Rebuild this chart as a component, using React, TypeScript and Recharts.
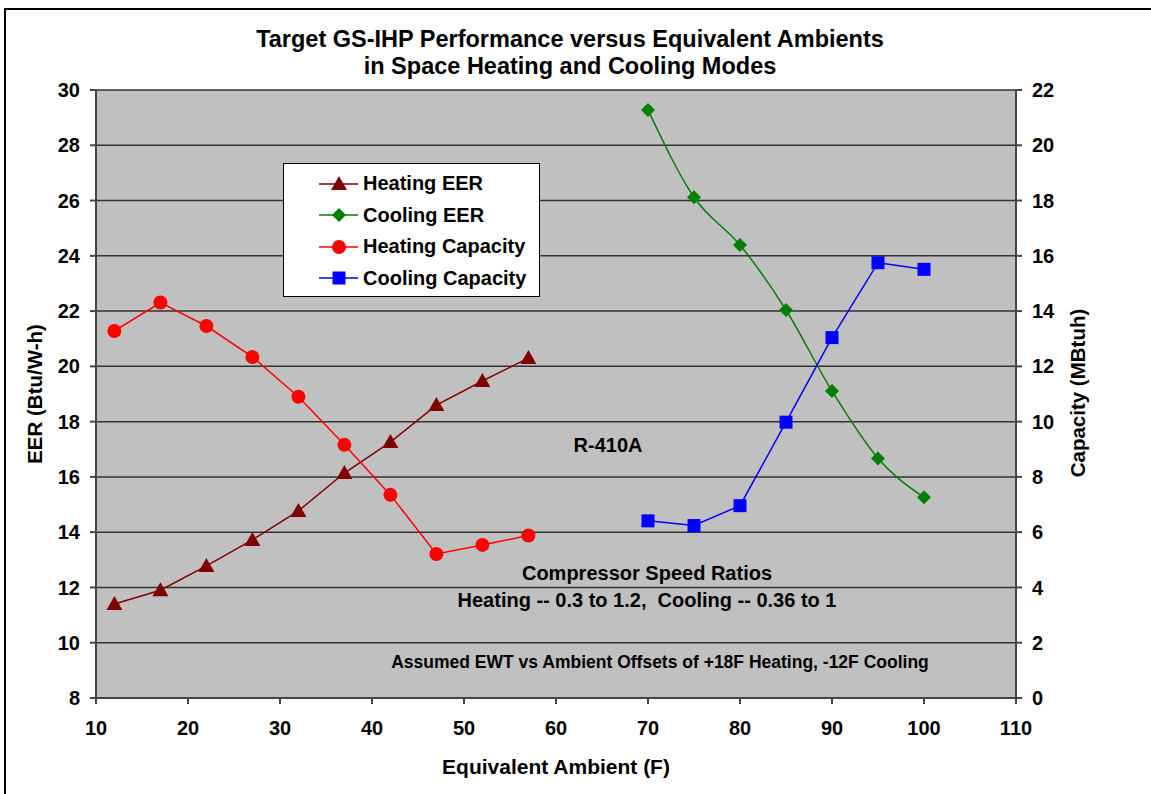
import { LineChart, Line, XAxis, YAxis, CartesianGrid } from 'recharts';

// Heating mode: equivalent ambient (F), EER (Btu/W-h), capacity (MBtuh)
const heatingTemps = [12, 17, 22, 27, 32, 37, 42, 47, 52, 57];
const heatingEer = [11.4, 11.9, 12.78, 13.72, 14.77, 16.14, 17.26, 18.6, 19.47, 20.3];
const heatingCapacity = [13.28, 14.31, 13.46, 12.34, 10.9, 9.16, 7.35, 5.21, 5.54, 5.88];

// Cooling mode
const coolingTemps = [70, 75, 80, 85, 90, 95, 100];
const coolingEer = [29.28, 26.12, 24.39, 22.04, 19.11, 16.67, 15.26];
const coolingCapacity = [6.41, 6.24, 6.96, 9.98, 13.04, 15.75, 15.51];

const xTicks = [10, 20, 30, 40, 50, 60, 70, 80, 90, 100, 110];
const eerTicks = [8, 10, 12, 14, 16, 18, 20, 22, 24, 26, 28, 30];
const capTicks = [0, 2, 4, 6, 8, 10, 12, 14, 16, 18, 20, 22];

const FONT = '"Liberation Sans", Arial, sans-serif';

const heatingRows = heatingTemps.map((t, i) => ({ temp: t, eer: heatingEer[i], cap: heatingCapacity[i] }));
const coolingRows = coolingTemps.map((t, i) => ({ temp: t, eer: coolingEer[i], cap: coolingCapacity[i] }));

const series = [
  { name: 'Heating EER', color: '#800000', shape: 'triangle' },
  { name: 'Cooling EER', color: '#008000', shape: 'diamond' },
  { name: 'Heating Capacity', color: '#FF0000', shape: 'circle' },
  { name: 'Cooling Capacity', color: '#0000FF', shape: 'square' },
];

function Marker({ shape, cx, cy, color }: { shape: string; cx: number; cy: number; color: string }) {
  if (shape === 'triangle') {
    return <polygon points={`${cx},${cy - 8} ${cx - 8},${cy + 6} ${cx + 8},${cy + 6}`} fill={color} />;
  }
  if (shape === 'diamond') {
    return <polygon points={`${cx},${cy - 7} ${cx + 7},${cy} ${cx},${cy + 7} ${cx - 7},${cy}`} fill={color} />;
  }
  if (shape === 'circle') {
    return <circle cx={cx} cy={cy} r={7} fill={color} />;
  }
  return <rect x={cx - 6.5} y={cy - 6.5} width={13} height={13} fill={color} />;
}

const makeDot = (shape: string, color: string) => (props: any) => {
  const { cx, cy, index } = props;
  if (cx == null || cy == null) return <g key={index} />;
  return (
    <g key={index}>
      <Marker shape={shape} cx={cx} cy={cy} color={color} />
    </g>
  );
};

function LegendBox() {
  return (
    <div
      style={{
        position: 'absolute',
        left: 283,
        top: 163,
        width: 257,
        height: 134,
        background: '#fff',
        border: '1px solid #000',
        boxSizing: 'border-box',
        paddingTop: 4,
        fontFamily: FONT,
      }}
    >
      {series.map((s) => (
        <div key={s.name} style={{ display: 'flex', alignItems: 'center', height: 31.5 }}>
          <svg width={79} height={20}>
            <line x1={35} y1={10} x2={74} y2={10} stroke={s.color} strokeWidth={1.5} />
            <Marker shape={s.shape} cx={55} cy={10} color={s.color} />
          </svg>
          <span style={{ fontSize: 20, fontWeight: 'bold', color: '#000' }}>{s.name}</span>
        </div>
      ))}
    </div>
  );
}

const tickStyle = { fontSize: 20, fontWeight: 'bold', fill: '#000', fontFamily: FONT };

const text = (extra: React.CSSProperties): React.CSSProperties => ({
  position: 'absolute',
  fontFamily: FONT,
  fontWeight: 'bold',
  color: '#000',
  whiteSpace: 'nowrap',
  ...extra,
});

export default function App() {
  return (
    <div style={{ position: 'absolute', left: 0, top: 0, width: 1151, height: 794, background: '#fff', overflow: 'hidden' }}>
      <div style={{ position: 'absolute', left: 4, top: 8, width: 1200, height: 900, border: '2px solid #000' }} />
      <div style={{ position: 'absolute', left: 0, top: 0 }}>
        <LineChart width={1151} height={794} margin={{ top: 90, right: 0, bottom: 0, left: 0 }}>
          <CartesianGrid
            yAxisId="eer"
            vertical={false}
            horizontal
            fill="#C0C0C0"
            fillOpacity={1}
            stroke="#333"
            strokeWidth={1.5}
          />
          <XAxis
            type="number"
            dataKey="temp"
            domain={[10, 110]}
            ticks={xTicks}
            allowDataOverflow
            height={96}
            tick={tickStyle}
            tickSize={6}
            tickMargin={17}
            stroke="#444"
            strokeWidth={2}
          />
          <YAxis
            yAxisId="eer"
            orientation="left"
            domain={[8, 30]}
            ticks={eerTicks}
            width={96}
            tick={tickStyle}
            tickSize={6}
            tickMargin={10}
            stroke="#444"
            strokeWidth={2}
          />
          <YAxis
            yAxisId="cap"
            orientation="right"
            domain={[0, 22]}
            ticks={capTicks}
            width={135}
            tick={tickStyle}
            tickSize={6}
            tickMargin={10}
            stroke="#444"
            strokeWidth={2}
          />
          <Line
            data={heatingRows}
            yAxisId="eer"
            dataKey="eer"
            name="Heating EER"
            type="linear"
            stroke="#800000"
            strokeWidth={1.5}
            dot={makeDot('triangle', '#800000')}
            isAnimationActive={false}
          />
          <Line
            data={coolingRows}
            yAxisId="eer"
            dataKey="eer"
            name="Cooling EER"
            type="monotone"
            stroke="#008000"
            strokeWidth={1.5}
            dot={makeDot('diamond', '#008000')}
            isAnimationActive={false}
          />
          <Line
            data={heatingRows}
            yAxisId="cap"
            dataKey="cap"
            name="Heating Capacity"
            type="linear"
            stroke="#FF0000"
            strokeWidth={1.5}
            dot={makeDot('circle', '#FF0000')}
            isAnimationActive={false}
          />
          <Line
            data={coolingRows}
            yAxisId="cap"
            dataKey="cap"
            name="Cooling Capacity"
            type="linear"
            stroke="#0000FF"
            strokeWidth={1.5}
            dot={makeDot('square', '#0000FF')}
            isAnimationActive={false}
          />
        </LineChart>
      </div>

      <LegendBox />

      <div style={text({ left: 570, top: 53, transform: 'translate(-50%, -50%)', fontSize: 23.5, textAlign: 'center', lineHeight: '27px' })}>
        Target GS-IHP Performance versus Equivalent Ambients
        <br />
        in Space Heating and Cooling Modes
      </div>
      <div style={text({ left: 35, top: 394, transform: 'translate(-50%, -50%) rotate(-90deg)', fontSize: 20.5 })}>
        EER (Btu/W-h)
      </div>
      <div style={text({ left: 1078, top: 393, transform: 'translate(-50%, -50%) rotate(-90deg)', fontSize: 20.5 })}>
        Capacity (MBtuh)
      </div>
      <div style={text({ left: 556, top: 767, transform: 'translate(-50%, -50%)', fontSize: 21 })}>
        Equivalent Ambient (F)
      </div>
      <div style={text({ left: 608, top: 445, transform: 'translate(-50%, -50%)', fontSize: 20 })}>R-410A</div>
      <div style={text({ left: 647, top: 573, transform: 'translate(-50%, -50%)', fontSize: 20 })}>
        Compressor Speed Ratios
      </div>
      <div style={text({ left: 647, top: 600, transform: 'translate(-50%, -50%)', fontSize: 20 })}>
        Heating -- 0.3 to 1.2,&nbsp;&nbsp;Cooling -- 0.36 to 1
      </div>
      <div style={text({ left: 660, top: 662, transform: 'translate(-50%, -50%)', fontSize: 17.5 })}>
        Assumed EWT vs Ambient Offsets of +18F Heating, -12F Cooling
      </div>
    </div>
  );
}
